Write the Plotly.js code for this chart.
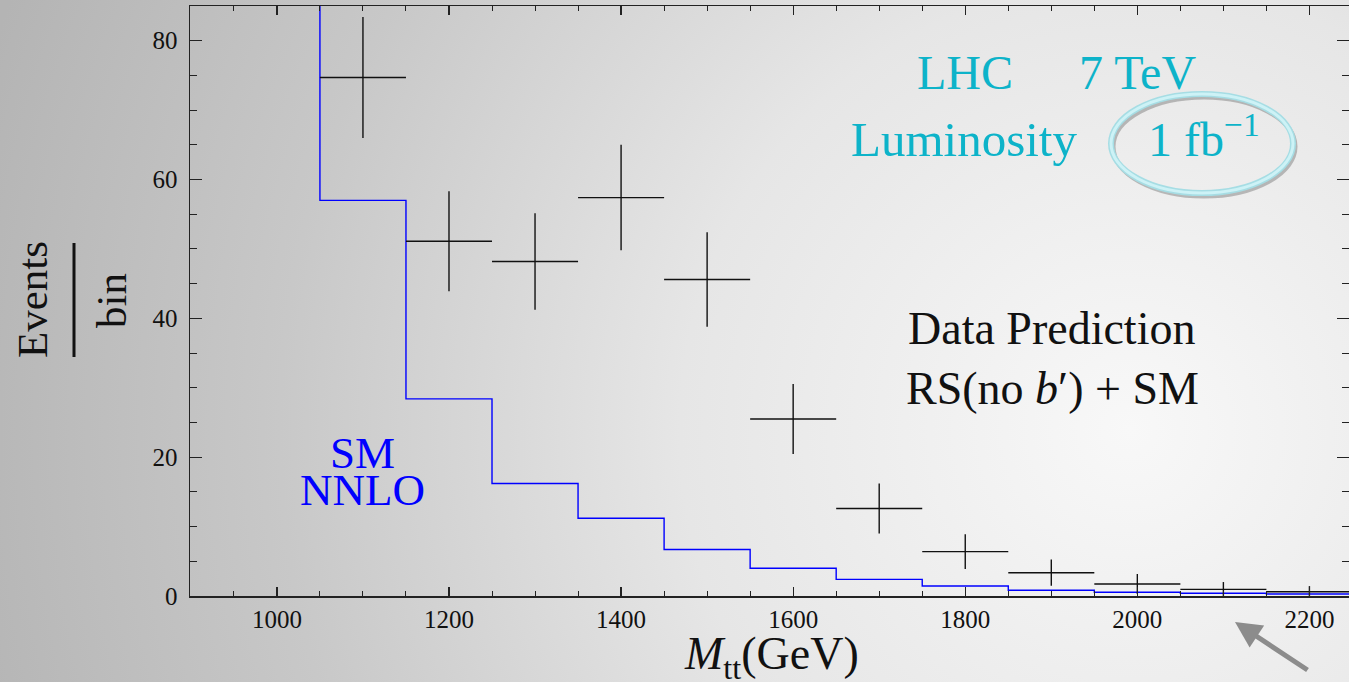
<!DOCTYPE html>
<html>
<head>
<meta charset="utf-8">
<script src="https://cdn.plot.ly/plotly-3.0.1.min.js"></script>
<style>
  html, body { margin: 0; padding: 0; }
  #chart {
    width: 1349px; height: 682px;
    background: radial-gradient(circle at 1130px 430px, #f8f8f8 0px, #e6e6e6 450px, #c8c8c8 850px, #b4b4b4 1200px);
  }
</style>
</head>
<body>
<div id="chart"></div>
<script>
// ---- data ----
// SM NNLO histogram: bin edges and contents (first bin is above the visible range)
const smBinEdges = [950, 1050, 1150, 1250, 1350, 1450, 1550, 1650, 1750, 1850, 1950, 2050, 2150, 2250];
const smValues   = [110, 57.0, 28.4, 16.2, 11.2, 6.7, 4.0, 2.4, 1.44, 0.82, 0.53, 0.39, 0.29];

// Data prediction RS(no b') + SM: bin centres, contents, errors
const dataCenters = [1100, 1200, 1300, 1400, 1500, 1600, 1700, 1800, 1900, 2000, 2100, 2200];
const dataValues  = [74.7, 51.1, 48.2, 57.4, 45.6, 25.5, 12.6, 6.4, 3.36, 1.73, 0.96, 0.62];
const dataErrors  = [8.7, 7.2, 6.95, 7.6, 6.8, 5.05, 3.6, 2.5, 1.9, 1.44, 1.05, 0.8];
const binHalfWidth = 50;

const xTickVals = [1000, 1200, 1400, 1600, 1800, 2000, 2200];
const yTickVals = [0, 20, 40, 60, 80];

// ---- layout helpers (pixel -> paper) ----
const W = 1349, H = 682;
const L = 190, R = 1349, T = 6, B = 596;
const px = x => (x - L) / (R - L);
const py = y => (B - y) / (B - T);

const serif = "'Liberation Serif', 'Times New Roman', serif";
const cyan = '#0db3c9';

// step line points
const smX = smBinEdges.slice();
const smY = smValues.concat([smValues[smValues.length - 1]]);

const traces = [
  {
    type: 'scatter', mode: 'lines',
    x: smX, y: smY,
    line: { shape: 'hv', color: '#0000ff', width: 1.4 },
    hoverinfo: 'skip'
  },
  {
    type: 'scatter', mode: 'markers',
    x: dataCenters, y: dataValues,
    marker: { size: 1, color: 'rgba(0,0,0,0)' },
    error_x: { type: 'constant', value: binHalfWidth, width: 0, thickness: 1.4, color: '#111' },
    error_y: { type: 'data', array: dataErrors, symmetric: true, width: 0, thickness: 1.4, color: '#111' },
    hoverinfo: 'skip'
  }
];

const axisCommon = {
  showgrid: false, zeroline: false,
  showline: true, linecolor: '#222', linewidth: 1.5,
  mirror: 'ticks', ticks: 'inside', tickcolor: '#222', tickwidth: 1.3,
  tickfont: { family: serif, size: 25, color: '#111' }
};

const layout = {
  width: W, height: H,
  font: { family: serif, color: '#111' },
  margin: { l: L, r: W - R, t: T, b: H - B, pad: 0 },
  paper_bgcolor: 'rgba(0,0,0,0)',
  plot_bgcolor: 'rgba(0,0,0,0)',
  showlegend: false,
  hovermode: false,
  xaxis: Object.assign({}, axisCommon, {
    range: [899, 2246],
    tickmode: 'array', tickvals: xTickVals, ticktext: xTickVals.map(String),
    ticklen: 9,
    minor: { dtick: 50, tick0: 1000, ticks: 'inside', ticklen: 5, tickwidth: 1, tickcolor: '#222', showgrid: false }
  }),
  yaxis: Object.assign({}, axisCommon, {
    range: [0, 85],
    tickmode: 'array', tickvals: yTickVals, ticktext: yTickVals.map(String),
    ticklen: 12,
    ticklabelstandoff: 6,
    minor: { dtick: 5, tick0: 0, ticks: 'inside', ticklen: 7, tickwidth: 1, tickcolor: '#222', showgrid: false }
  }),
  annotations: [
    { text: '<i>M</i><sub>tt</sub>(GeV)', x: px(771), y: py(626), yanchor: 'top', font: { family: serif, size: 46, color: '#111' } },
    { text: 'SM', x: px(362), y: py(453), font: { family: serif, size: 45, color: '#0000ff' } },
    { text: 'NNLO', x: px(362), y: py(490), font: { family: serif, size: 45, color: '#0000ff' } },
    { text: 'Data Prediction', x: px(1051), y: py(329), font: { family: serif, size: 46, color: '#111' } },
    { text: 'RS(no <i>b</i>′) + SM', x: px(1052), y: py(388), font: { family: serif, size: 46, color: '#111' } },
    { text: 'LHC', x: px(965), y: py(73), font: { family: serif, size: 48, color: cyan } },
    { text: '7 TeV', x: px(1137), y: py(73), font: { family: serif, size: 48, color: cyan } },
    { text: 'Luminosity', x: px(964), y: py(140), font: { family: serif, size: 49, color: cyan } },
    { text: '1 fb<sup>−1</sup>', x: px(1204), y: py(136), font: { family: serif, size: 48, color: cyan } },
    { text: 'Events', x: px(32), y: py(300), textangle: -90, font: { family: serif, size: 43, color: '#111' } },
    { text: 'bin', x: px(111), y: py(301), textangle: -90, font: { family: serif, size: 43, color: '#111' } },
    { text: '', x: px(1235), y: py(622), ax: 74, ay: 49, showarrow: true,
      arrowhead: 2, arrowsize: 1.05, arrowwidth: 5, arrowcolor: '#8c8c8c', standoff: 0 }
  ].map(a => Object.assign({ xref: 'paper', yref: 'paper', xanchor: 'center', yanchor: 'middle', showarrow: false }, a)),
  shapes: [
    { type: 'line', xref: 'paper', yref: 'paper', x0: px(74), x1: px(74), y0: py(243), y1: py(357),
      line: { color: '#111', width: 3 } },
    { type: 'circle', xref: 'paper', yref: 'paper', x0: px(1113), x1: px(1295), y0: py(196), y1: py(97),
      line: { color: 'rgba(80,80,80,0.35)', width: 5 } },
    { type: 'circle', xref: 'paper', yref: 'paper', x0: px(1111), x1: px(1293), y0: py(193), y1: py(94),
      line: { color: '#a6dde4', width: 6 } },
    { type: 'circle', xref: 'paper', yref: 'paper', x0: px(1111), x1: px(1293), y0: py(193), y1: py(94),
      line: { color: '#cdf2f6', width: 3 } }
  ]
};

Plotly.newPlot('chart', traces, layout, { staticPlot: true, displayModeBar: false });
</script>
</body>
</html>
